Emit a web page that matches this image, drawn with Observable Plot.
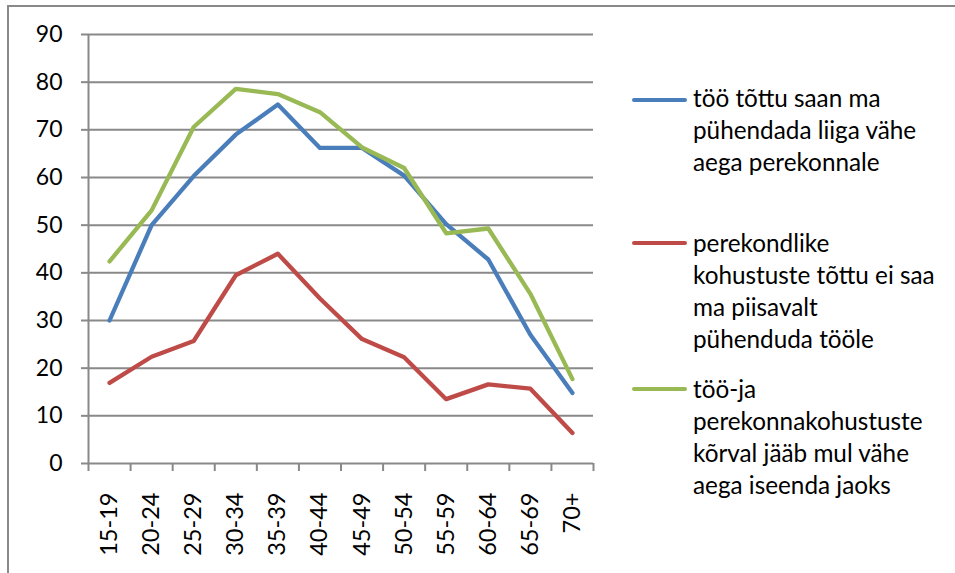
<!DOCTYPE html>
<html>
<head>
<meta charset="utf-8">
<script src="https://cdn.jsdelivr.net/npm/d3@7"></script>
<script src="https://cdn.jsdelivr.net/npm/@observablehq/plot@0.6"></script>
<style>
  html, body { margin: 0; padding: 0; background: #fff; }
  #wrap { position: relative; width: 955px; height: 573px; overflow: hidden; font-family: Lato, "Open Sans", sans-serif; }
  #border { position: absolute; left: 7px; top: 5px; width: 1000px; height: 700px; border-left: 2px solid #898989; border-top: 2px solid #898989; }
  #chart { position: absolute; left: 0; top: 0; }
  #legend { position: absolute; left: 0; top: 0; }
  .swatch { position: absolute; left: 632px; width: 55px; height: 4px; border-radius: 2px; }
  .label { position: absolute; left: 693px; white-space: nowrap; font-size: 24.3px; line-height: 32px; color: #000; }
</style>
</head>
<body>
<div id="wrap">
  <div id="border"></div>
  <div id="chart"></div>
  <div id="legend"></div>
</div>
<script>
const categories = ["15-19","20-24","25-29","30-34","35-39","40-44","45-49","50-54","55-59","60-64","65-69","70+"];
const seriesNames = [
  "töö tõttu saan ma pühendada liiga vähe aega perekonnale",
  "perekondlike kohustuste tõttu ei saa ma piisavalt pühenduda tööle",
  "töö-ja perekonnakohustuste kõrval jääb mul vähe aega iseenda jaoks"
];
const legendLines = [
  ["töö tõttu saan ma", "pühendada liiga vähe", "aega perekonnale"],
  ["perekondlike", "kohustuste tõttu ei saa", "ma piisavalt", "pühenduda tööle"],
  ["töö-ja", "perekonnakohustuste", "kõrval jääb mul vähe", "aega iseenda jaoks"]
];
const blueValues  = [30, 50, 60.3, 69, 75.3, 66.2, 66.2, 60.4, 50.2, 42.8, 27, 14.8];
const redValues   = [16.9, 22.4, 25.7, 39.5, 44, 34.6, 26.1, 22.3, 13.5, 16.6, 15.7, 6.4];
const greenValues = [42.4, 53.1, 70.6, 78.6, 77.5, 73.7, 66.3, 62, 48.3, 49.3, 35.6, 17.7];
const colors = ["#4A7EBB", "#BE4B48", "#98B954"];
const yTicks = [0, 10, 20, 30, 40, 50, 60, 70, 80, 90];

const allSeries = [blueValues, redValues, greenValues];
const data = [];
allSeries.forEach((vals, s) => vals.forEach((v, i) => data.push({i, value: v, series: seriesNames[s]})));

const centers = categories.map((_, i) => i);
const boundaries = d3.range(-0.5, categories.length, 1);

const grid = "#898989";
const chart = Plot.plot({
  width: 955,
  height: 573,
  marginLeft: 88,
  marginRight: 362,
  marginTop: 34,
  marginBottom: 110,
  style: {fontFamily: "Lato, 'Open Sans', sans-serif", fontSize: "23px", color: "#000", background: "transparent", overflow: "visible"},
  x: {type: "linear", domain: [-0.5, categories.length - 0.5], axis: null},
  y: {domain: [0, 90], axis: null},
  color: {domain: seriesNames, range: colors},
  marks: [
    Plot.ruleY(yTicks, {stroke: grid, strokeWidth: 2, strokeOpacity: 1}),
    Plot.ruleX([-0.5], {stroke: grid, strokeWidth: 2, strokeOpacity: 1}),
    Plot.axisY({ticks: yTicks, label: null, tickSize: 7, tickPadding: 19, stroke: grid, strokeWidth: 2, strokeOpacity: 1, fill: "#000", fontSize: "23px", tickFormat: d => String(d)}),
    Plot.axisX({ticks: boundaries, label: null, tickSize: 8, stroke: grid, strokeWidth: 2, strokeOpacity: 1, tickFormat: () => ""}),
    Plot.axisX({ticks: centers, label: null, tickSize: 0, tickPadding: 29, tickRotate: -90, fill: "#000", fontSize: "23.5px", tickFormat: i => categories[i]}),
    Plot.line(data, {x: "i", y: "value", z: "series", stroke: "series", strokeWidth: 4.3, strokeLinecap: "round", strokeLinejoin: "round"})
  ]
});
document.getElementById("chart").appendChild(chart);

const swatchY = [100, 243, 389];
const textTop = [82, 227, 373];
const legend = document.getElementById("legend");
legendLines.forEach((lines, s) => {
  const sw = document.createElement("div");
  sw.className = "swatch";
  sw.style.top = (swatchY[s] - 2) + "px";
  sw.style.background = colors[s];
  legend.appendChild(sw);
  const lab = document.createElement("div");
  lab.className = "label";
  lab.style.top = textTop[s] + "px";
  lab.innerHTML = lines.join("<br>");
  legend.appendChild(lab);
});
</script>
</body>
</html>
